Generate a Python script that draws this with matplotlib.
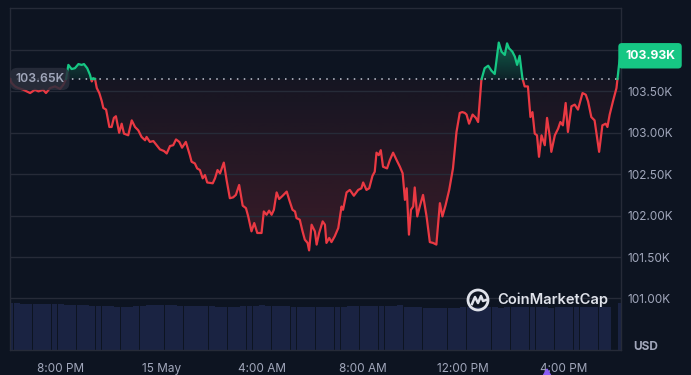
import numpy as np
import matplotlib.pyplot as plt
from matplotlib.path import Path
from matplotlib.patches import Ellipse, Polygon
from matplotlib.colors import to_rgb
import matplotlib.transforms as mtrans

plt.rcParams['font.family'] = ['Inter', 'DejaVu Sans']

# BTC price, hours since 14 May 00:00 -> price in thousands USD
horas = [17.98, 18.05, 18.18, 18.31, 18.51, 18.65, 18.78, 18.97, 19.11, 19.30, 19.41, 19.57, 19.77, 19.97, 20.10, 20.21,
         20.30, 20.43, 20.56, 20.70, 20.83, 20.92, 21.05, 21.16, 21.23, 21.29, 21.36, 21.43, 21.53, 21.63, 21.69, 21.80,
         21.93, 22.02, 22.11, 22.19, 22.32, 22.42, 22.51, 22.68, 22.82, 22.95, 23.08, 23.21, 23.35, 23.41, 23.54, 23.68,
         23.81, 23.94, 24.10, 24.21, 24.34, 24.47, 24.58, 24.71, 24.82, 24.97, 25.13, 25.20, 25.33, 25.42, 25.53, 25.64,
         25.73, 25.82, 26.04, 26.13, 26.23, 26.33, 26.48, 26.59, 26.72, 26.85, 26.96, 27.09, 27.23, 27.36, 27.45, 27.58,
         27.69, 27.81, 27.98, 28.07, 28.18, 28.28, 28.38, 28.47, 28.58, 28.68, 28.82, 28.98, 29.08, 29.21, 29.31, 29.37,
         29.50, 29.61, 29.70, 29.81, 29.87, 29.97, 30.10, 30.17, 30.27, 30.41, 30.50, 30.56, 30.67, 30.76, 30.89, 31.03,
         31.16, 31.22, 31.36, 31.49, 31.65, 31.82, 31.95, 32.02, 32.15, 32.26, 32.39, 32.48, 32.55, 32.64, 32.72, 32.81,
         32.97, 33.08, 33.21, 33.35, 33.48, 33.59, 33.68, 33.75, 33.84, 33.92, 34.01, 34.07, 34.17, 34.27, 34.40, 34.54,
         34.67, 34.80, 34.93, 35.07, 35.17, 35.30, 35.44, 35.59, 35.73, 35.86, 35.96, 36.06, 36.13, 36.23, 36.37, 36.50,
         36.59, 36.72, 36.85, 36.99, 37.12, 37.25, 37.34, 37.41, 37.52, 37.65, 37.74, 37.82, 37.95, 38.05, 38.14, 38.24,
         38.35, 38.44, 38.57, 38.67, 38.75, 38.84, 38.93, 39.01, 39.11, 39.24, 39.33, 39.44, 39.50, 39.64, 39.77, 39.86,
         39.96, 40.07, 40.16, 40.30, 40.43, 40.56, 40.74, 40.87, 40.96, 41.09, 41.22, 41.40, 41.53, 41.66, 41.73, 41.82,
         41.95, 42.09, 42.19, 42.25]
precios = [103.65, 103.60, 103.56, 103.54, 103.52, 103.50, 103.48, 103.52, 103.50, 103.52, 103.48, 103.54, 103.56, 103.53,
           103.58, 103.65, 103.82, 103.77, 103.78, 103.83, 103.82, 103.83, 103.78, 103.70, 103.62, 103.66, 103.65, 103.54,
           103.48, 103.38, 103.30, 103.28, 103.07, 103.07, 103.18, 103.20, 103.00, 103.11, 102.99, 102.97, 103.15, 103.07,
           103.03, 102.95, 102.91, 102.95, 102.89, 102.90, 102.85, 102.80, 102.78, 102.75, 102.84, 102.85, 102.92, 102.89,
           102.82, 102.89, 102.73, 102.65, 102.63, 102.57, 102.55, 102.45, 102.49, 102.40, 102.39, 102.45, 102.55, 102.51,
           102.64, 102.43, 102.21, 102.22, 102.25, 102.37, 102.12, 102.09, 101.99, 101.81, 101.91, 101.79, 101.79, 102.05,
           102.01, 102.06, 102.01, 102.07, 102.28, 102.20, 102.24, 102.29, 102.19, 102.07, 102.05, 101.97, 101.95, 101.81,
           101.71, 101.67, 101.58, 101.89, 101.81, 101.65, 101.79, 101.93, 101.89, 101.67, 101.73, 101.68, 101.75, 101.85,
           102.11, 102.07, 102.28, 102.31, 102.24, 102.31, 102.33, 102.40, 102.31, 102.33, 102.48, 102.53, 102.76, 102.73,
           102.79, 102.59, 102.57, 102.67, 102.76, 102.67, 102.59, 102.51, 102.19, 102.33, 101.77, 102.07, 102.11, 102.34,
           101.99, 102.11, 102.25, 101.99, 101.68, 101.67, 101.65, 102.15, 101.99, 102.13, 102.31, 102.57, 103.01, 103.24,
           103.25, 103.24, 103.22, 103.11, 103.22, 103.18, 103.13, 103.64, 103.78, 103.81, 103.75, 103.71, 103.92, 104.09,
           103.98, 103.94, 104.08, 104.02, 103.98, 103.92, 103.82, 103.93, 103.66, 103.56, 103.56, 103.19, 103.25, 102.99,
           102.97, 102.71, 102.97, 102.85, 103.18, 102.95, 102.77, 102.97, 103.05, 103.13, 103.09, 103.36, 103.01, 103.32,
           103.34, 103.28, 103.48, 103.46, 103.38, 103.19, 103.15, 102.77, 103.09, 103.11, 103.07, 103.22, 103.38, 103.54,
           103.82, 103.93]

# volumen cada 15 min (unidades relativas)
vol_inicio = 18.0
volumenes = [47, 47, 46, 46, 46, 46, 46, 46, 46, 45.5, 45, 45, 45, 44, 44, 44, 44, 43.5, 43.5, 43.5,
             44, 44.5, 45, 45, 45, 45, 45, 44.5, 44, 44, 44, 44, 44, 43.5, 43, 43, 43.5, 44, 44, 44.5,
             45, 44.5, 44, 44, 44, 43.5, 43, 43, 43, 43, 43, 43, 43, 43.5, 44, 44, 44, 44, 44, 44,
             44, 44.5, 45, 43.5, 43, 43, 42.5, 42.5, 42.5, 42.5, 42.5, 42.5, 43, 43, 43, 43.5, 43, 43, 42.5, 43,
             43, 43, 43.5, 43, 43, 43, 42.5, 43, 43, 43, 43.5, 43, 43, 43, 43, 43, 0, 47]

precio_ref = 103.65
precio_actual = 103.93
ticks_x = [20, 24, 28, 32, 36, 40]
etiquetas_x = ['8:00 PM', '15 May', '4:00 AM', '8:00 AM', '12:00 PM', '4:00 PM']
ticks_y = [101.0, 101.5, 102.0, 102.5, 103.0, 103.5, 104.0]

fondo = '#0d1421'
rejilla = '#262b38'
rojo = '#ea3943'
verde = '#16c784'
gris = '#a1a7bb'

W, H = 691, 375
izq, der, arr, aba = 10, 621, 8, 350
x0, x1 = 17.98, 42.27
y0, y1 = 100.377, 104.507


def fx(px):
    return px / W


def fy(py):
    return 1 - py / H


def cortar_en_base(t, p, base):
    tt, pp = [t[0]], [p[0]]
    for i in range(1, len(t)):
        a, b = p[i - 1] - base, p[i] - base
        if a * b < 0:
            f = a / (a - b)
            tt.append(t[i - 1] + f * (t[i] - t[i - 1]))
            pp.append(base)
        tt.append(t[i])
        pp.append(p[i])
    return np.array(tt), np.array(pp)


fig = plt.figure(figsize=(W / 100, H / 100), dpi=100, facecolor=fondo)

# volumen abajo
ax_v = fig.add_axes([fx(izq), fy(aba), fx(der - izq), 50 / H])
ax_v.set_facecolor(fondo)
t_vol = vol_inicio + 0.25 * np.arange(len(volumenes))
ax_v.bar(t_vol, volumenes, width=0.235, color='#1a2342', linewidth=0)
ax_v.set_xlim(x0, x1)
ax_v.set_ylim(0, 50)
ax_v.axis('off')

ax = fig.add_axes([fx(izq), fy(aba), fx(der - izq), (aba - arr) / H])
ax.set_facecolor('none')

tt, pp = cortar_en_base(horas, precios, precio_ref)


# relleno con degradado, recortado al area entre linea y referencia
def degradado(color, a_ini, a_fin, extent, verts):
    rgba = np.zeros((256, 1, 4))
    rgba[..., :3] = to_rgb(color)
    rgba[:, 0, 3] = np.linspace(a_ini, a_fin, 256)
    im = ax.imshow(rgba, extent=extent, origin='lower', aspect='auto', zorder=1, interpolation='bilinear')
    im.set_clip_path(Path(verts, closed=True), transform=ax.transData)
    return im


base_arr = np.full(len(tt), precio_ref)
p_abajo = np.minimum(pp, precio_ref)
verts_r = np.vstack([np.column_stack([tt, p_abajo]), np.column_stack([tt[::-1], base_arr])])
degradado(rojo, 0.30, 0.04, [x0, x1, y0, precio_ref], verts_r)

p_arriba = np.maximum(pp, precio_ref)
verts_g = np.vstack([np.column_stack([tt, p_arriba]), np.column_stack([tt[::-1], base_arr])])
degradado(verde, 0.08, 0.75, [x0, x1, precio_ref, y1], verts_g)

linea_r = np.where(pp <= precio_ref, pp, np.nan)
linea_g = np.where(pp >= precio_ref, pp, np.nan)
ax.plot(tt, linea_r, color=rojo, lw=1.6, zorder=3, solid_joinstyle='round')
ax.plot(tt, linea_g, color=verde, lw=1.6, zorder=3, solid_joinstyle='round')

ax.axhline(precio_ref, color='#c3c8d4', lw=1.1, ls=(0, (1, 3.5)), zorder=2)

ax.set_xlim(x0, x1)
ax.set_ylim(y0, y1)
ax.set_xticks(ticks_x)
ax.set_xticklabels(etiquetas_x)
ax.set_yticks(ticks_y)
ax.set_yticklabels([f'{v:.2f}K' if v < 104 else '' for v in ticks_y])
ax.yaxis.tick_right()
ax.tick_params(axis='both', length=0, colors=gris, labelsize=8.5)
ax.tick_params(axis='x', pad=9.5)
ax.tick_params(axis='y', pad=4.5)
ax.grid(axis='y', color=rejilla, lw=1)
for s in ax.spines.values():
    s.set_color(rejilla)
    s.set_linewidth(1)

trans = mtrans.blended_transform_factory(ax.transAxes, ax.transData)
ax.text(0.0085, precio_ref, f'{precio_ref:.2f}K', transform=trans, ha='left', va='center', fontsize=8.8,
        fontweight='semibold', color=gris, zorder=5,
        bbox=dict(boxstyle='round,pad=0.42,rounding_size=0.6', fc='#2a2f3d', ec='none', alpha=0.85))
ax.text(1.0475, precio_actual, f'{precio_actual:.2f}K', transform=trans, ha='center', va='center', fontsize=8.8,
        fontweight='bold', color='white', zorder=5, clip_on=False,
        bbox=dict(boxstyle='round,pad=0.55,rounding_size=0.3', fc=verde, ec='none'))

fig.text(fx(646), fy(347), 'USD', ha='center', va='center', fontsize=8.5, fontweight='bold', color=gris)

# logo
logo_c = '#dfe2ea'
fig.add_artist(Ellipse((fx(478), fy(300)), 20 / W, 20 / H, fill=False, lw=2, ec=logo_c,
                       transform=fig.transFigure))
m_pts = [(-6, 4), (-3, -3), (0, 3), (3, -4), (5, 1), (8, 0)]
fig.add_artist(plt.Line2D([fx(478 + a) for a, b in m_pts], [fy(300 + b) for a, b in m_pts],
                          color=logo_c, lw=1.8, transform=fig.transFigure, solid_joinstyle='round'))
fig.text(fx(497), fy(300), 'CoinMarketCap', ha='left', va='center', fontsize=10.6, fontweight='semibold',
         color=logo_c)

fig.add_artist(Polygon([[fx(543), fy(376)], [fx(551), fy(376)], [fx(547), fy(369)]], closed=True,
                       color='#8a5cf5', transform=fig.transFigure))

fig.savefig('out.png', dpi=100, facecolor=fondo)
